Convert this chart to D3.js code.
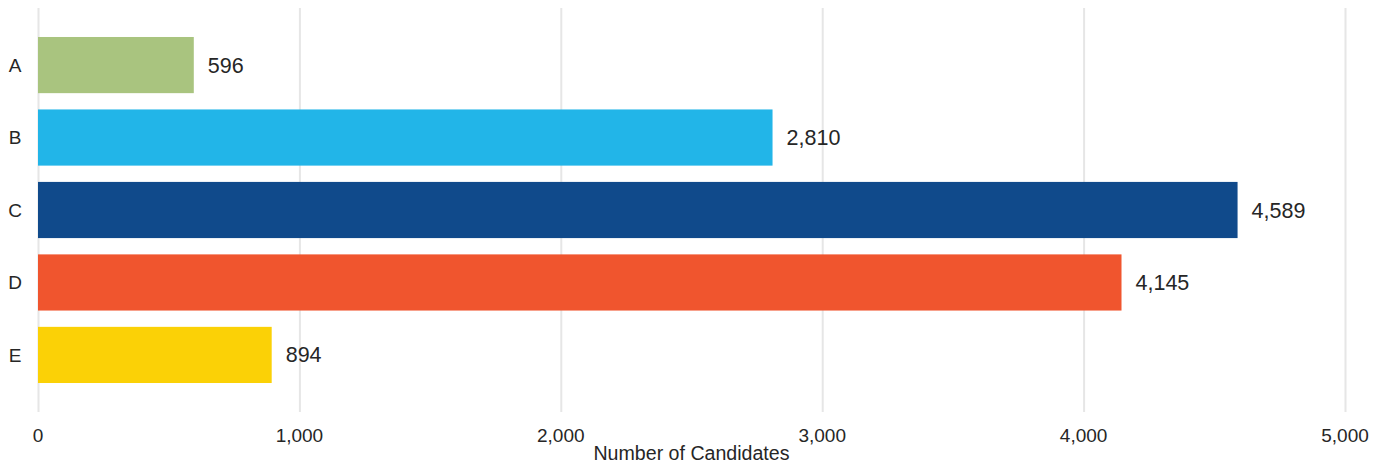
<!DOCTYPE html>
<html>
<head>
<meta charset="utf-8">
<script src="https://cdn.jsdelivr.net/npm/d3@7"></script>
<style>
  body { margin: 0; background: #fff; }
  text { font-family: "Liberation Sans", Arial, sans-serif; fill: #262626; }
</style>
</head>
<body>
<script>
var outerWidth = 1388, outerHeight = 463;

var categories = ["A", "B", "C", "D", "E"];
var values = [596, 2810, 4589, 4145, 894];
var colors = ["#a9c47f", "#22b5e8", "#104a8b", "#f0552e", "#fbd106"];
var tickValues = [0, 1000, 2000, 3000, 4000, 5000];
var axisTitle = "Number of Candidates";

var data = categories.map(function (c, i) { return { cat: c, value: values[i], color: colors[i] }; });

var margin = { top: 8, right: 43, bottom: 51, left: 38 };
var width = outerWidth - margin.left - margin.right,
  height = outerHeight - margin.top - margin.bottom;

var x = d3.scaleLinear()
  .domain([0, 5000])
  .range([0, width]);

var y = d3.scaleBand()
  .domain(categories)
  .range([0, height])
  .paddingInner(0.225)
  .paddingOuter(0.4);

var svg = d3.select("body").append("svg")
  .attr("width", outerWidth)
  .attr("height", outerHeight);

var g = svg.append("g")
  .attr("transform", "translate(" + margin.left + "," + margin.top + ")");

// vertical gridlines
g.selectAll(".grid")
  .data(tickValues)
  .enter().append("line")
  .attr("x1", function (d) { return x(d) + 0.5; })
  .attr("x2", function (d) { return x(d) + 0.5; })
  .attr("y1", 0)
  .attr("y2", height)
  .style("stroke", "#e6e6e6")
  .style("stroke-width", 2);

// x tick labels
g.selectAll(".xtick")
  .data(tickValues)
  .enter().append("text")
  .attr("x", function (d) { return x(d); })
  .attr("y", height + 30)
  .attr("text-anchor", "middle")
  .style("font-size", "19px")
  .text(d3.format(","));

g.append("text")
  .attr("x", width / 2)
  .attr("y", height + 48)
  .attr("text-anchor", "middle")
  .style("font-size", "19.6px")
  .text(axisTitle);

// category labels
g.selectAll(".ylab")
  .data(categories)
  .enter().append("text")
  .attr("x", -23)
  .attr("y", function (d) { return y(d) + y.bandwidth() / 2; })
  .attr("dy", "0.35em")
  .attr("text-anchor", "middle")
  .style("font-size", "19px")
  .text(function (d) { return d; });

g.selectAll(".bar")
  .data(data)
  .enter().append("rect")
  .attr("x", x(0))
  .attr("y", function (d) { return y(d.cat); })
  .attr("width", function (d) { return x(d.value) - x(0); })
  .attr("height", y.bandwidth())
  .style("fill", function (d) { return d.color; });

g.selectAll(".val")
  .data(data)
  .enter().append("text")
  .attr("x", function (d) { return x(d.value) + 14; })
  .attr("y", function (d) { return y(d.cat) + y.bandwidth() / 2; })
  .attr("dy", "0.35em")
  .style("font-size", "21.5px")
  .text(function (d) { return d3.format(",")(d.value); });
</script>
</body>
</html>
